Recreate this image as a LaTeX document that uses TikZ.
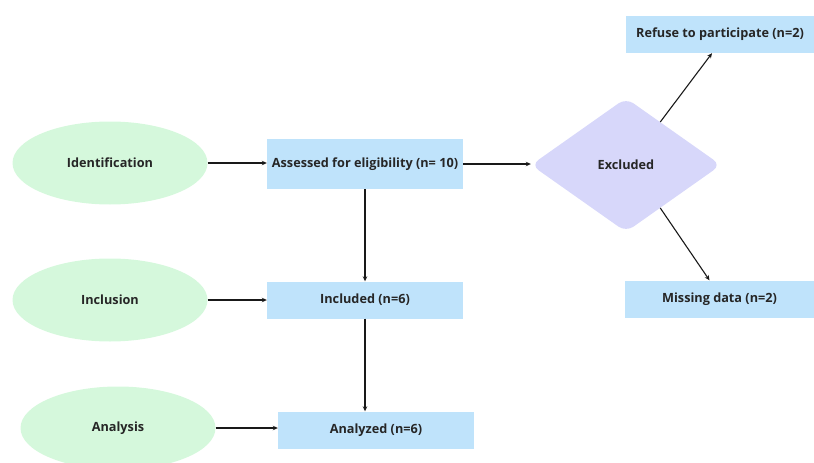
\documentclass[tikz,border=0pt]{standalone}
\usepackage{fontspec}
\setmainfont{Open Sans}
\usetikzlibrary{shapes.geometric,arrows.meta,calc}
\definecolor{egreen}{HTML}{D5F8DC}
\definecolor{rblue}{HTML}{BFE3FB}
\definecolor{dlav}{HTML}{D7D7FA}
\tikzset{
  lbl/.style={font=\bfseries\fontsize{12.7}{15}\selectfont,text=black!85},
  stage/.style={ellipse,fill=egreen,draw=none,minimum width=195pt,minimum height=83pt,lbl,inner sep=0pt},
  box/.style={rectangle,fill=rblue,draw=none,minimum width=196pt,minimum height=37pt,lbl,inner sep=0pt},
  decision/.style={diamond,fill=dlav,draw=none,minimum width=190pt,minimum height=134pt,aspect=1.4,rounded corners=9pt,inner sep=0pt,lbl},
  arr/.style={draw=black!90,line width=1.1pt,-{Stealth[length=5pt,width=4.5pt]}}
}
\begin{document}
\begin{tikzpicture}[x=1pt,y=-1pt]
\useasboundingbox (0,0) rectangle (814,463);
\begin{scope}
\clip (0,0) rectangle (814,463);
\node[stage] (idn) at (110,163) {Identification};
\node[stage] (inc) at (110,300) {Inclusion};
\node[stage] (anl) at (118,428) {Analysis};
\node[box,minimum height=50pt] (ass) at (365,164) {Assessed for eligibility (n= 10)};
\node[box] (incd) at (365,300) {Included (n=6)};
\node[box] (anz) at (376,430) {Analyzed (n=6)};
\node[box,minimum width=188pt] (ref) at (720,34.5) {Refuse to participate (n=2)};
\node[box,minimum width=189pt] (mis) at (719.5,299) {Missing data (n=2)};
\node[decision] (exc) at (626,165) {Excluded};
\end{scope}
\draw[arr] (idn.east) -- (idn.east -| ass.west);
\draw[arr] (ass.east) -- (ass.east -| exc.west);
\draw[arr] (ass.south) -- (incd.north);
\draw[arr] (inc.east) -- (inc.east -| incd.west);
\draw[arr] (incd.south) -- (incd.south |- anz.north);
\draw[arr] (anl.east) -- (anl.east -| anz.west);
\draw[arr] ($(exc.north)!0.36!(exc.east)$) -- ($(ref.south)+(-8,0)$);
\draw[arr] ($(exc.south)!0.36!(exc.east)$) -- ($(mis.north)+(-10,0)$);
\end{tikzpicture}
\end{document}
